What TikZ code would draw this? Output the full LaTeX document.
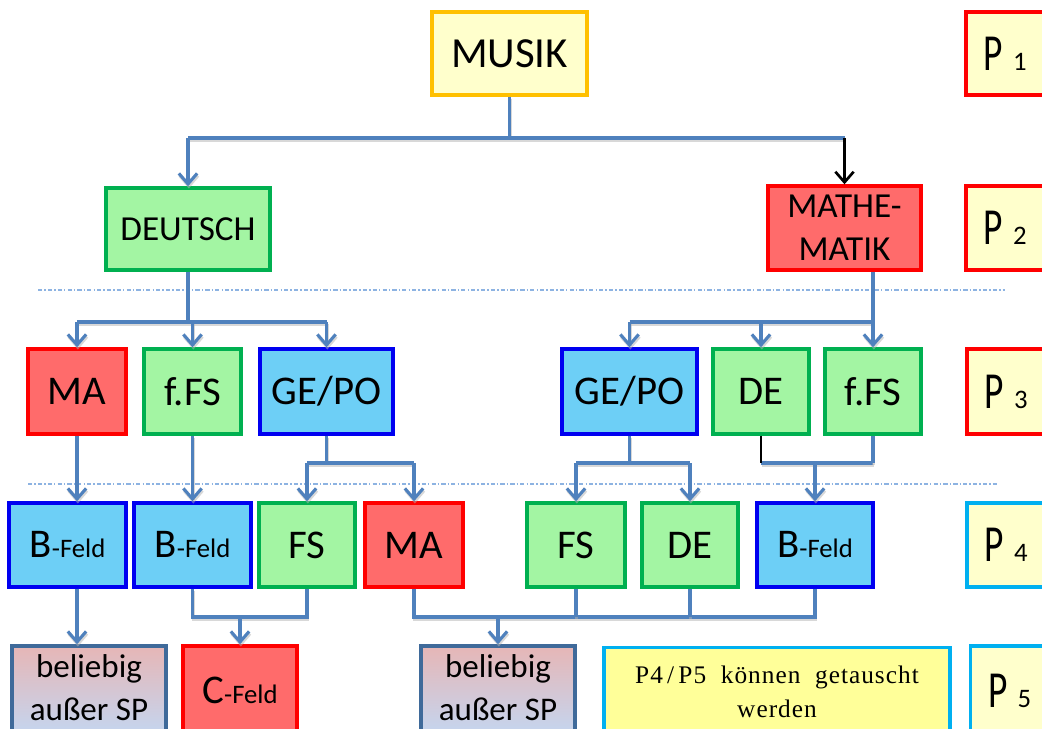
\documentclass[tikz,border=0pt]{standalone}
\usepackage{fontspec}
\setmainfont{Carlito}
\newfontfamily\pfont[FakeStretch=0.72]{Carlito}
\newfontfamily\notefont[LetterSpace=4]{Liberation Serif}
\usetikzlibrary{arrows.meta,calc}
\definecolor{connc}{HTML}{4F81BD}
\definecolor{dashc}{HTML}{8DB3E2}
\definecolor{yfill}{HTML}{FFFFCC}
\definecolor{notefill}{HTML}{FFFF99}
\definecolor{orangeb}{HTML}{FFC000}
\definecolor{redb}{HTML}{FF0000}
\definecolor{redfill}{HTML}{FF6B6B}
\definecolor{greenb}{HTML}{00B050}
\definecolor{greenfill}{HTML}{A3F5A3}
\definecolor{blueb}{HTML}{0000F0}
\definecolor{bluefill}{HTML}{6DCFF6}
\definecolor{cyanb}{HTML}{00B0F0}
\definecolor{grayb}{HTML}{3F6A9A}
\definecolor{beltop}{HTML}{E6B6B6}
\definecolor{belbot}{HTML}{C4D6F0}
\newcommand\pl[1]{{\pfont\fontsize{37}{40}\selectfont P}\hspace{7pt}{\fontsize{19}{20}\selectfont #1}}
\newcommand\feld[1]{#1{\fontsize{19}{20}\selectfont -Feld}}
\tikzset{
  sz/.style n args={2}{minimum width=#1*0.025cm, minimum height=#2*0.025cm},
  box/.style={draw, line width=2.4pt, inner sep=0pt, align=center, text=black,
    font=\fontsize{29}{34}\selectfont},
  ybox/.style={box, fill=yfill},
  rbox/.style={box, draw=redb, fill=redfill},
  gbox/.style={box, draw=greenb, fill=greenfill},
  bbox/.style={box, draw=blueb, fill=bluefill},
  belbox/.style={box, draw=grayb, top color=beltop, bottom color=belbot,
    font=\fontsize{23.5}{30.5}\selectfont, text depth=0.15cm},
  pbox/.style={box, fill=yfill, inner xsep=0.45cm, text width=1.85cm, align=left},
  line/.style={draw=connc, line width=2.2pt,
    preaction={draw=black!30, line width=2.2pt, opacity=0.5, transform canvas={xshift=0.6pt,yshift=-1.6pt}}},
  blk/.style={draw=black, line width=1.9pt},
  arr/.style={-{Straight Barb[length=7.5pt,width=13pt]}},
  dashline/.style={draw=dashc, line width=0.9pt, dash pattern=on 3pt off 1.5pt on 1pt off 1.5pt}
}
\begin{document}
\begin{tikzpicture}[x=0.025cm,y=-0.025cm]
\useasboundingbox (0,0) rectangle (1042,729);
\clip (0,0) rectangle (1042,729);
\fill[white] (0,0) rectangle (1042,729);

% levels
\coordinate (L1) at (0,138);
\coordinate (L2) at (0,322);
\coordinate (L3) at (0,463);
\coordinate (L4) at (0,617);
\coordinate (d1a) at (38,290);
\coordinate (d1b) at (1005,290);
\coordinate (d2a) at (28,484);
\coordinate (d2b) at (997,484);

% row 1
\node[ybox, draw=orangeb, sz={155}{83}, font=\fontsize{30.5}{36}\selectfont] (musik) at (509.5,53.5) {MUSIK};
\node[pbox, draw=redb, sz={110}{83}] (p1) at (1021,53.5) {\pl{1}};

% row 2
\node[gbox, sz={164}{82}, font=\fontsize{25}{30}\selectfont] (deutsch) at (188,229) {DEUTSCH};
\node[rbox, sz={153}{84}, font=\fontsize{25}{30.5}\selectfont] (math) at (844.5,228) {MATHE-\\MATIK};
\node[pbox, draw=redb, sz={110}{84}] (p2) at (1021,228) {\pl{2}};

% row 3
\node[rbox, sz={98}{85}] (ma) at (77,391.5) {MA};
\node[gbox, sz={97}{85}] (ffs) at (192.5,391.5) {f.FS};
\node[bbox, sz={133}{85}] (gp) at (326.5,391.5) {GE/PO};
\node[bbox, sz={135}{85}] (gp2) at (629.5,391.5) {GE/PO};
\node[gbox, sz={96}{85}] (de) at (761,391.5) {DE};
\node[gbox, sz={96}{85}] (ffs2) at (873,391.5) {f.FS};
\node[pbox, draw=redb, sz={110}{85}] (p3) at (1022,391.5) {\pl{3}};

% row 4
\node[bbox, sz={117}{84}] (bf1) at (67.5,545) {\feld{B}};
\node[bbox, sz={117}{84}] (bf2) at (192.5,545) {\feld{B}};
\node[gbox, sz={96}{84}] (fs) at (307,545) {FS};
\node[rbox, sz={98}{84}] (ma2) at (414,545) {MA};
\node[gbox, sz={98}{84}] (fs2) at (576,545) {FS};
\node[gbox, sz={96}{84}] (de2) at (690,545) {DE};
\node[bbox, sz={116}{84}] (bf3) at (815,545) {\feld{B}};
\node[pbox, draw=cyanb, sz={110}{84}] (p4) at (1022,545) {\pl{4}};

% row 5
\node[belbox, sz={154}{89}] (bel1) at (89,690.5) {beliebig\\außer SP};
\node[rbox, sz={114}{89}] (cf) at (240,690.5) {\feld{C}};
\node[belbox, sz={154}{89}] (bel2) at (498,690.5) {beliebig\\außer SP};
\node[box, draw=cyanb, fill=notefill, sz={346}{89}, font=\notefont\fontsize{18}{24}\selectfont] (note) at (777,692) {P4\,/\,P5 \ können \ getauscht\\werden};
\node[pbox, draw=cyanb, sz={101}{89}] (p5) at (1025.5,690.5) {\pl{5}};

% separators
\draw[dashline] (d1a) -- (d1b);
\draw[dashline] (d2a) -- (d2b);

% MUSIK -> row 2
\draw[line] (musik.south) -- (musik.south |- L1);
\draw[line] (deutsch.north |- L1) -- (math.north |- L1);
\draw[line,arr] (deutsch.north |- L1) -- (deutsch.north);
\draw[blk,arr] (math.north |- L1) -- (math.north);

% DEUTSCH -> row 3
\draw[line] (deutsch.south) -- (deutsch.south |- L2);
\draw[line] (ma.north |- L2) -- (gp.north |- L2);
\draw[line,arr] (ma.north |- L2) -- (ma.north);
\draw[line,arr] (ffs.north |- L2) -- (ffs.north);
\draw[line,arr] (gp.north |- L2) -- (gp.north);

% MATHEMATIK -> row 3
\draw[line] (gp2.north |- L2) -- (ffs2.north |- L2);
\draw[line,arr] (math.south -| ffs2.north) -- (ffs2.north);
\draw[line,arr] (gp2.north |- L2) -- (gp2.north);
\draw[line,arr] (de.north |- L2) -- (de.north);

% row 3 -> row 4
\draw[line,arr] (ma.south) -- (ma.south |- bf1.north);
\draw[line,arr] (ffs.south) -- (bf2.north);
\draw[line] (gp.south) -- (gp.south |- L3);
\draw[line] (fs.north |- L3) -- (ma2.north |- L3);
\draw[line,arr] (fs.north |- L3) -- (fs.north);
\draw[line,arr] (ma2.north |- L3) -- (ma2.north);
\draw[line] (gp2.south) -- (gp2.south |- L3);
\draw[line] (fs2.north |- L3) -- (de2.north |- L3);
\draw[line,arr] (fs2.north |- L3) -- (fs2.north);
\draw[line,arr] (de2.north |- L3) -- (de2.north);
\draw[line] (de.south |- L3) -- (ffs2.south |- L3);
\draw[line] (ffs2.south) -- (ffs2.south |- L3);
\draw[blk] (de.south) -- (de.south |- L3);
\draw[line,arr] (bf3.north |- L3) -- (bf3.north);

% row 4 -> row 5
\draw[line,arr] (ma.south |- bf1.south) -- (ma.south |- bel1.north);
\draw[line] (bf2.south) -- (bf2.south |- L4) -- (fs.south |- L4) -- (fs.south);
\draw[line,arr] (cf.north |- L4) -- (cf.north);
\draw[line] (ma2.south) -- (ma2.south |- L4) -- (bf3.south |- L4) -- (bf3.south);
\draw[line] (fs2.south) -- (fs2.south |- L4);
\draw[line] (de2.south) -- (de2.south |- L4);
\draw[line,arr] (bel2.north |- L4) -- (bel2.north);
\end{tikzpicture}
\end{document}
